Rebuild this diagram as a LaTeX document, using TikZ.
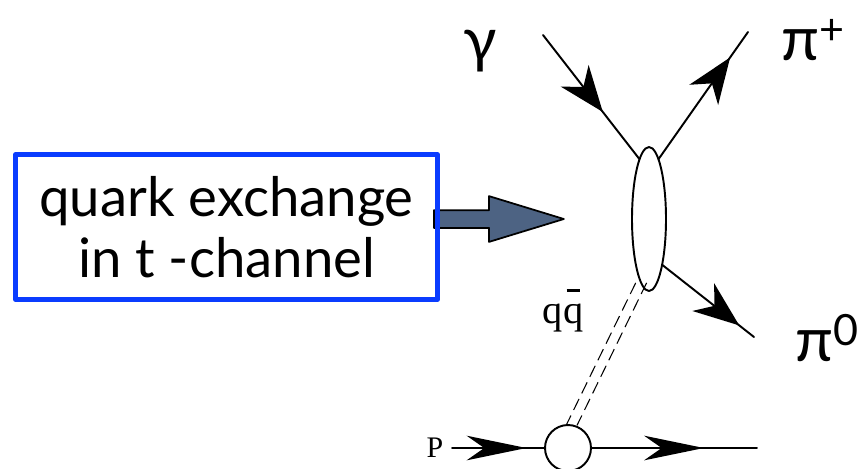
\documentclass[tikz,border=0pt]{standalone}
\usepackage{fontspec}
\setmainfont{Lato}
\newfontfamily\labelserif{Liberation Serif}
\usetikzlibrary{arrows.meta,decorations.markings,shapes.geometric,shapes.arrows}
\definecolor{BoxBlue}{HTML}{0A3CFF}
\definecolor{ArrowSlate}{HTML}{4D6383}
\tikzset{
  prop/.style={line width=1.1pt,postaction={decorate},
    decoration={markings,mark=at position #1 with {\arrow{Stealth[length=26pt,width=20pt,inset=8pt]}}}},
  pline/.style={line width=1.1pt,postaction={decorate},
    decoration={markings,mark=at position #1 with {\arrow{Stealth[length=34pt,width=14pt,inset=10pt]}}}},
  exch/.style={line width=0.6pt,dash pattern=on 7pt off 3.5pt,line cap=butt},
  blob/.style={ellipse,draw,line width=1.1pt,minimum width=0.68cm,minimum height=2.88cm,inner sep=0pt,outer sep=0pt},
  vtx/.style={circle,draw,line width=1.1pt,fill=white,minimum size=0.92cm,inner sep=0pt,outer sep=0pt},
  qbox/.style={draw=BoxBlue,line width=2.8pt,minimum width=8.44cm,minimum height=2.9cm,align=center,font=\fontsize{31}{35}\selectfont},
  fatarrow/.style={single arrow,draw,fill=ArrowSlate,line width=1pt,minimum height=2.6cm,minimum width=0.88cm,
    inner sep=0.16cm,single arrow head extend=0.28cm,single arrow tip angle=34},
  plabel/.style={font=\fontsize{35}{37}\selectfont}
}
\newcommand{\qbar}{q\ooalign{q\cr\hidewidth\raisebox{0.78em}{\rule{0.32em}{0.07em}}\hidewidth\cr}}
\begin{document}
\begin{tikzpicture}[x=0.02cm,y=-0.02cm,line cap=round,line join=round]
  \useasboundingbox (0,0) rectangle (862,468);
  \node[blob] (blob) at (649,219) {};
  \node[vtx] (vtx) at (568,448) {};
  \coordinate (gin) at (543,35);\coordinate (pplus) at (748,32);\coordinate (pzero) at (754,337);
  \coordinate (pin) at (452,448);\coordinate (pout) at (757,448);
  \draw[prop=0.62] (gin)--(blob.99);
  \draw[prop=0.8] (blob.81)--(pplus);
  \draw[prop=0.84] (blob.-74)--(pzero);
  \draw[exch] ([xshift=-3.1pt]blob.-97)--([xshift=-3.1pt]vtx.81);
  \draw[exch] ([xshift=3.1pt]blob.-97)--([xshift=3.1pt]vtx.81);
  \draw[pline=0.8] (pin)--(vtx.west);
  \draw[pline=0.68] (vtx.east)--(pout);
  \node[fatarrow,anchor=tail] (hint) at (433,219) {};
  \node[qbox] (box) at (226.5,227) {quark exchange\\in t -channel};
  \node[plabel] (gam) at (480,51) {γ};
  \node[plabel] (pip) at (813,40) {π\textsuperscript{+}};
  \node[plabel] (piz) at (827,338) {π\textsuperscript{0}};
  \node[font=\labelserif\fontsize{23}{25}\selectfont] (qq) at (563,318) {\qbar};
  \node[font=\labelserif\fontsize{17}{19}\selectfont] (plab) at (435,448) {P};
\end{tikzpicture}
\end{document}
